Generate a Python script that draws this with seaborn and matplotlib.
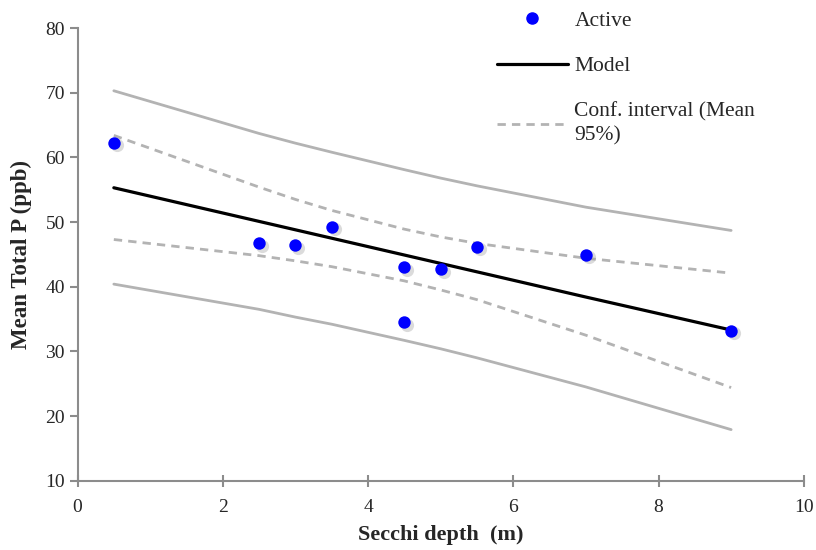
import numpy as np
import pandas as pd
import seaborn as sns
import matplotlib.pyplot as plt
from matplotlib.lines import Line2D

# observed points
secchi = [0.5, 2.5, 3.0, 3.5, 4.5, 4.5, 5.0, 5.5, 7.0, 9.0]
total_p = [62.2, 46.7, 46.4, 49.2, 43.0, 34.5, 42.7, 46.2, 44.9, 33.2]

# curves read at the distinct depths
curve_x = [0.5, 2.5, 3.0, 3.5, 4.5, 5.0, 5.5, 7.0, 9.0]
model = [55.3, 50.1, 48.8, 47.5, 44.9, 43.6, 42.3, 38.4, 33.3]
ci_mean_hi = [63.4, 55.4, 53.5, 51.8, 48.9, 47.7, 46.7, 44.4, 42.1]
ci_mean_lo = [47.3, 44.8, 44.0, 43.1, 40.9, 39.5, 38.0, 32.5, 24.4]
ci_obs_hi = [70.3, 63.7, 62.2, 60.8, 58.1, 56.8, 55.6, 52.3, 48.7]
ci_obs_lo = [40.4, 36.5, 35.3, 34.2, 31.7, 30.4, 29.0, 24.5, 17.9]

sns.set_style("white")
plt.rcParams['font.family'] = ['Liberation Serif', 'DejaVu Serif']

df_pts = pd.DataFrame({"x": secchi, "y": total_p})
df_curves = pd.DataFrame({"x": curve_x, "model": model,
                          "mhi": ci_mean_hi, "mlo": ci_mean_lo,
                          "ohi": ci_obs_hi, "olo": ci_obs_lo})

fig = plt.figure(figsize=(8.16, 5.5), dpi=100)
ax = fig.add_axes([0.095, 0.126, 0.89, 0.823])

grey = "#b3b3b3"
for col in ["ohi", "olo"]:
    sns.lineplot(data=df_curves, x="x", y=col, ax=ax, color=grey, lw=2, sort=False)
for col in ["mhi", "mlo"]:
    sns.lineplot(data=df_curves, x="x", y=col, ax=ax, color=grey, lw=2,
                 linestyle=(0, (3, 2.2)), sort=False)
sns.lineplot(data=df_curves, x="x", y="model", ax=ax, color="black", lw=2.3, sort=False)

# soft shadow under the points
sns.scatterplot(data=df_pts.assign(x=df_pts.x + 0.04, y=df_pts.y - 0.35), x="x", y="y",
                ax=ax, color="#999999", s=90, alpha=0.35, linewidth=0, zorder=4)
sns.scatterplot(data=df_pts, x="x", y="y", ax=ax, color="#0000ff", s=80,
                linewidth=0, zorder=5)

ax.set_xlim(0, 10)
ax.set_ylim(10, 80)
ax.set_xticks(range(0, 11, 2))
ax.set_yticks(range(10, 81, 10))
sns.despine(ax=ax)
for side in ["left", "bottom"]:
    ax.spines[side].set_color("#8c8c8c")
    ax.spines[side].set_linewidth(1.5)
ax.tick_params(axis="x", direction="inout", length=8, width=1.5, color="#8c8c8c",
               labelsize=14, pad=9, bottom=True)
ax.tick_params(axis="y", direction="out", length=6, width=1.5, color="#8c8c8c",
               labelsize=14, pad=3, left=True)

ax.set_xlabel("Secchi depth  (m)", fontsize=16, fontweight="bold", labelpad=7)
ax.set_ylabel("Mean Total P (ppb)", fontsize=16.5, fontweight="bold", labelpad=10)

handles = [
    Line2D([], [], ls="none", marker="o", color="#0000ff", markersize=8),
    Line2D([], [], color="black", lw=2.3),
    Line2D([], [], color=grey, lw=2, ls=(0, (3, 2.2))),
]
labels = ["Active", "Model", "Conf. interval (Mean\n95%)"]
leg = fig.legend(handles, labels, loc="upper left", bbox_to_anchor=(0.609, 0.981),
                 frameon=False, fontsize=15.5, handlelength=3.3, handletextpad=0.3,
                 labelspacing=1.2, borderpad=0, borderaxespad=0)
for t in leg.get_texts():
    t.set_linespacing(1.35)

fig.savefig("out.png", dpi=100)
